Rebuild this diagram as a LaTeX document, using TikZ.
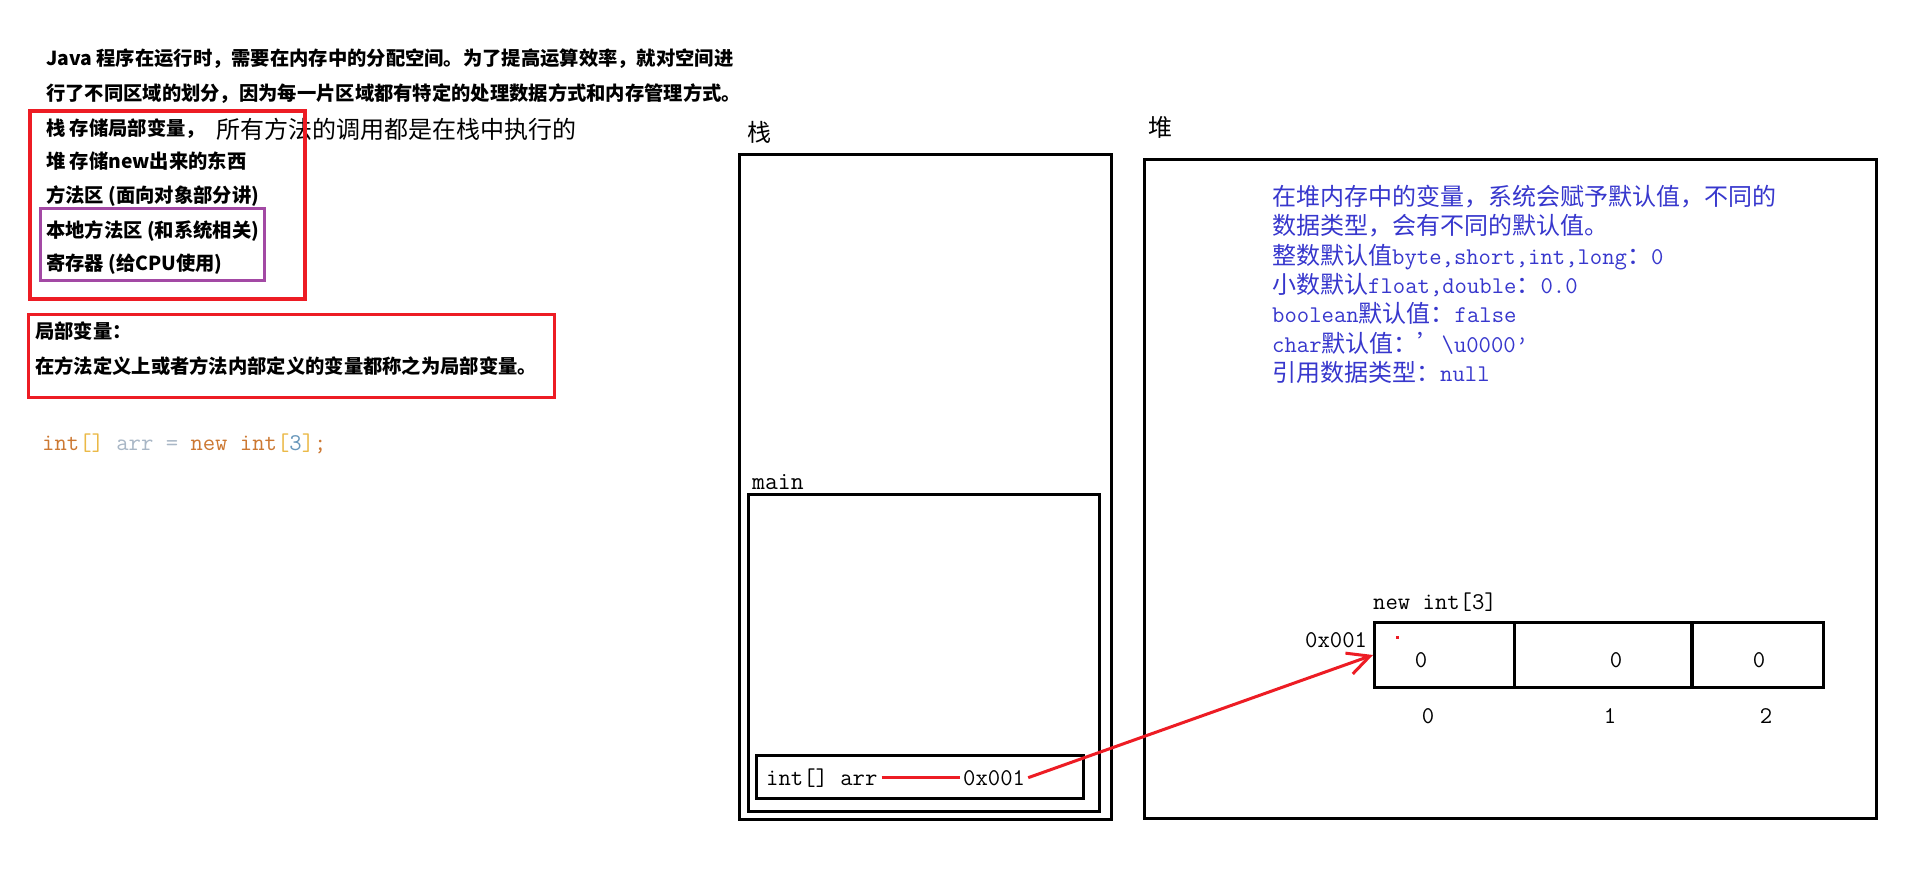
\documentclass[tikz,border=0pt]{standalone}
\usepackage{fontspec}
\newfontfamily\cjk{Noto Sans CJK SC}
\usetikzlibrary{arrows.meta}
\definecolor{pred}{RGB}{237,28,36}
\definecolor{ppurple}{RGB}{163,73,164}
\definecolor{hblue}{RGB}{55,55,205}
\definecolor{kw}{RGB}{204,120,50}
\definecolor{brk}{RGB}{235,185,70}
\definecolor{idn}{RGB}{169,183,198}
\definecolor{num}{RGB}{104,151,187}
\newcommand\mymono[1]{{\ttfamily #1}}
\tikzset{
  frame/.style={draw=black, line width=3pt, inner sep=0pt, anchor=north west},
  redframe/.style={draw=pred, line width=4pt, inner sep=0pt, anchor=north west},
  purpleframe/.style={draw=ppurple, line width=2.7pt, inner sep=0pt, anchor=north west},
  cellbox/.style={draw=black, line width=3pt, inner sep=0pt, anchor=north west, minimum height=65pt},
  boldtxt/.style={inner sep=0pt, anchor=base west, font={\cjk\bfseries\fontsize{19.3}{23}\selectfont}},
  regtxt/.style={inner sep=0pt, anchor=base west, font={\cjk\fontsize{24}{28}\selectfont}},
  heaptxt/.style={inner sep=0pt, anchor=base west, text=hblue, font={\cjk\fontsize{24}{28}\selectfont}},
  monotxt/.style={inner sep=0pt, anchor=base west, font={\ttfamily\fontsize{24}{28}\selectfont}},
  digit/.style={inner sep=0pt, anchor=base, font={\ttfamily\fontsize{24}{28}\selectfont}},
  ptr/.style={draw=pred, line width=3pt},
}
\begin{document}
\begin{tikzpicture}[x=1pt,y=-1pt]
\fill[white] (0,0) rectangle (1914,881);
\useasboundingbox (0,0) rectangle (1914,881);

% left explanatory text
\node[boldtxt] (l1) at (46,65.7) {Java 程序在运行时，需要在内存中的分配空间。为了提高运算效率，就对空间进};
\node[boldtxt] (l2) at (46,100.4) {行了不同区域的划分，因为每一片区域都有特定的处理数据方式和内存管理方式。};
\node[boldtxt] (l3) at (46,135.4) {栈 存储局部变量，};
\node[regtxt] (l3b) at (216,138) {所有方法的调用都是在栈中执行的};
\node[boldtxt] (l4) at (46,168.7) {堆 存储new出来的东西};
\node[boldtxt] (l5) at (46,202.7) {方法区 (面向对象部分讲)};
\node[boldtxt] (l6) at (46,237.7) {本地方法区 (和系统相关)};
\node[boldtxt] (l7) at (46,270.7) {寄存器 (给CPU使用)};
\node[redframe, minimum width=275pt, minimum height=188pt] (rb1) at (28,109) {};
\node[purpleframe, minimum width=224pt, minimum height=72pt] (pb) at (39,207) {};

\node[redframe, line width=3pt, minimum width=526pt, minimum height=83pt] (rb2) at (27,313) {};
\node[boldtxt] (d1) at (35,338.7) {局部变量：};
\node[boldtxt] (d2) at (35,373.7) {在方法定义上或者方法内部定义的变量都称之为局部变量。};

\node[monotxt] (code) at (42,450) {\textcolor{kw}{int}\textcolor{brk}{[]} \textcolor{idn}{arr} \textcolor{idn}{=} \textcolor{kw}{new} \textcolor{kw}{int}\textcolor{brk}{[}\textcolor{num}{3}\textcolor{brk}{]}\textcolor{kw}{;}};

% stack
\node[regtxt] (stacklbl) at (747,141) {栈};
\node[frame, minimum width=372pt, minimum height=665pt] (stack) at (738,153) {};
\node[monotxt, font={\ttfamily\fontsize{25}{28}\selectfont}] (mainlbl) at (752,489) {main};
\node[frame, minimum width=351pt, minimum height=317pt] (main) at (747,493) {};
\node[frame, minimum width=327pt, minimum height=43pt] (varbox) at (755,754) {};
\node[monotxt, inner sep=4pt] (var) at (762,785) {int[] arr};
\node[monotxt, inner sep=3pt] (addr) at (960,785) {0x001};
\draw[ptr] (var.east) -- (addr.west);

% heap
\node[regtxt] (heaplbl) at (1148,136) {堆};
\node[frame, minimum width=732pt, minimum height=659pt] (heap) at (1143,158) {};
\node[heaptxt] (h1) at (1272,205.5) {在堆内存中的变量，系统会赋予默认值，不同的};
\node[heaptxt] (h2) at (1272,234.8) {数据类型，会有不同的默认值。};
\node[heaptxt] (h3) at (1272,264.1) {整数默认值\mymono{byte,short,int,long}：\mymono{0}};
\node[heaptxt] (h4) at (1272,293.4) {小数默认\mymono{float,double}：\mymono{0.0}};
\node[heaptxt] (h5) at (1272,322.7) {\mymono{boolean}默认值：\mymono{false}};
\node[heaptxt] (h6) at (1272,352) {\mymono{char}默认值：’\mymono{\textbackslash u0000’}};
\node[heaptxt] (h7) at (1272,381.3) {引用数据类型：\mymono{null}};

% array
\node[monotxt] (arrlbl) at (1373,609) {new int[3]};
\node[monotxt] (haddr) at (1305,647) {0x001};
\node[cellbox, minimum width=140pt] (cell0) at (1373,621) {};
\node[cellbox, minimum width=178pt] (cell1) at (1513,621) {};
\node[cellbox, minimum width=131pt] (cell2) at (1691,621) {};
\draw[line width=3pt] (cell2.north west) -- ++(0,68);
\fill[pred] (1396,636) rectangle (1399,639);
\node[digit] (v0) at (1421,667) {0};
\node[digit] (v1) at (1616,667) {0};
\node[digit] (v2) at (1759,667) {0};
\node[digit] (i0) at (1428,723) {0};
\node[digit] (i1) at (1610,723) {1};
\node[digit] (i2) at (1766,723) {2};

% pointer
\draw[ptr, -{Straight Barb[length=22pt,width=22pt,line width=3pt]}] (addr.east) -- (cell0.west);
\end{tikzpicture}
\end{document}
